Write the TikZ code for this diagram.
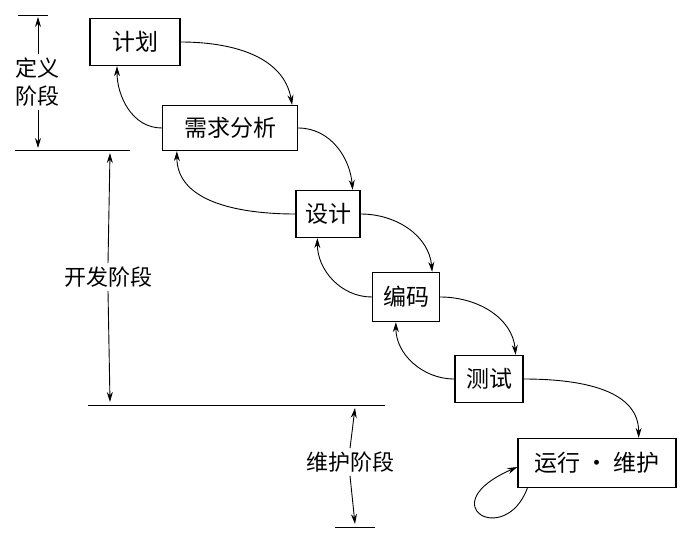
\documentclass[tikz,border=0pt]{standalone}
\usepackage{fontspec}
\newfontfamily\cjk{Noto Sans CJK SC}
\usetikzlibrary{arrows.meta}
\begin{document}
\begin{tikzpicture}[x=1pt,y=-1pt,
  box/.style={draw,line width=1.3pt,font=\cjk\fontsize{23}{26}\selectfont,inner sep=0pt},
  lbl/.style={font=\cjk\fontsize{22}{28}\selectfont,align=center},
  arr/.style={line width=0.9pt,-{Stealth[length=10pt,width=6pt]}},
  ln/.style={line width=1pt}]
\useasboundingbox (0,0) rectangle (689,544);
\node[box,minimum width=90pt,minimum height=47pt] (a) at (135,42) {计划};
\node[box,minimum width=135pt,minimum height=45pt] (b) at (230,128) {需求分析};
\node[box,minimum width=64pt,minimum height=47pt] (c) at (328,214) {设计};
\node[box,minimum width=67pt,minimum height=49pt] (d) at (406,297) {编码};
\node[box,minimum width=68pt,minimum height=47pt] (e) at (489,379) {测试};
\node[box,minimum width=158pt,minimum height=49pt] (f) at (597,463) {运行 · 维护};
% forward
\draw[arr] (a.east) to[out=0,in=100] ([xshift=-6pt]b.north east|-b.north) ;
\draw[arr] (b.east) to[out=0,in=95] ([xshift=-8pt]c.north east);
\draw[arr] (c.east) to[out=0,in=95] ([xshift=-8pt]d.north east);
\draw[arr] (d.east) to[out=0,in=95] ([xshift=-8pt]e.north east);
\draw[arr] (e.east) to[out=0,in=90] ([xshift=-38pt]f.north east);
% backward
\draw[arr] (b.west) to[out=180,in=-90] ([xshift=-18pt]a.south);
\draw[arr] (c.west) to[out=180,in=-90] ([xshift=15pt]b.south west);
\draw[arr] (d.west) to[out=180,in=-90] ([xshift=22pt]c.south west);
\draw[arr] (e.west) to[out=180,in=-90] ([xshift=24pt]d.south west);
% self loop
\draw[arr] ([xshift=10pt]f.south west) .. controls (505,548) and (430,505) .. ([yshift=-4pt]f.west);
% stage markers
\draw[ln] (18,15) -- (48,15);
\draw[ln] (15,150) -- (130,150);
\draw[ln] (88,405) -- (385,405);
\draw[ln] (335,527) -- (375,527);
\node[lbl] (s1) at (38,82) {定义\\阶段};
\draw[arr] (s1.north) -- (38,17);
\draw[arr] (s1.south) -- (38,148);
\node[lbl] (s2) at (108,277) {开发阶段};
\draw[arr] (s2.north) -- (110,153);
\draw[arr] (s2.south) -- (110,402);
\node[lbl] (s3) at (350,462) {维护阶段};
\draw[arr] (s3.north) -- (355,408);
\draw[arr] (s3.south) -- (355,524);
\end{tikzpicture}
\end{document}
